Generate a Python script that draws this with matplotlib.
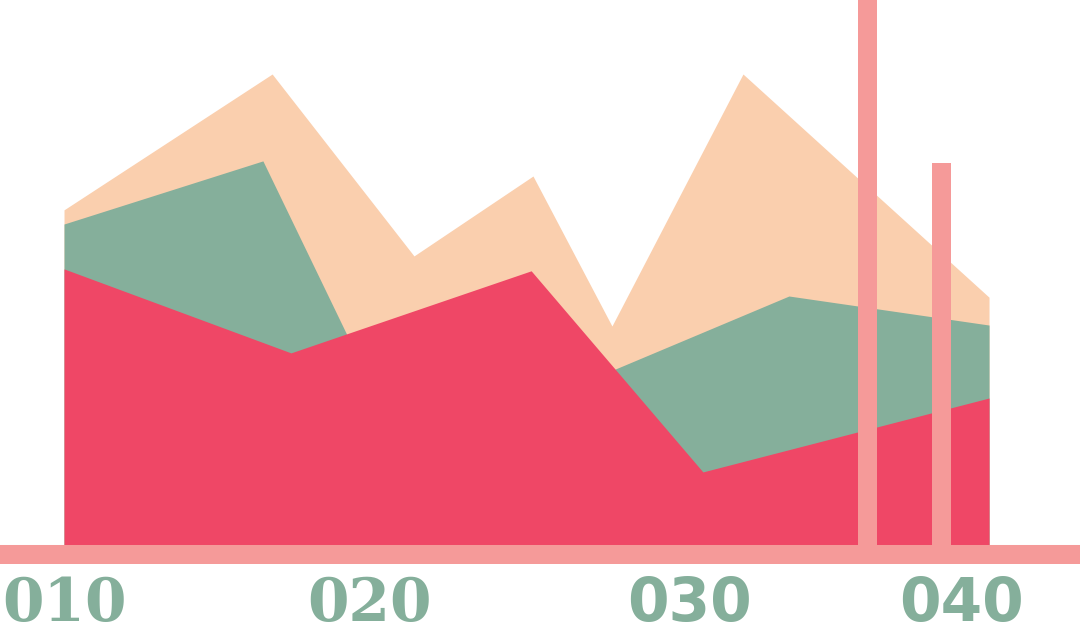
import matplotlib
matplotlib.use("Agg")
import matplotlib.pyplot as plt

# area series (x in data units, y values)
peach_x = [10, 16.75, 21.35, 25.21, 27.77, 32.02, 40]
peach_y = [71.7, 100, 62.1, 78.75, 47.5, 100, 53.5]

green_x = [10, 16.45, 21.09, 33.51, 40]
green_y = [68.75, 81.9, 20.2, 53.75, 47.7]

red_x = [10, 17.36, 25.15, 30.72, 40]
red_y = [59.4, 41.9, 59.0, 17.1, 32.5]

# the two thin bars
bar_x = [36.06, 38.46]
bar_h = [130, 81.5]

tick_pos = [10, 19.9, 30.3, 39.1]
tick_labels = ["010", "020", "030", "040"]
tick_fonts = ["DejaVu Serif", "DejaVu Serif", "DejaVu Sans", "DejaVu Sans"]

RED = "#EF4766"
GREEN = "#85AF9B"
PEACH = "#FACFAE"
PINK = "#F59A99"

fig = plt.figure(figsize=(10.8, 6.29), dpi=100)
ax = fig.add_axes([0, 65 / 629, 1, 564 / 629])

ax.fill_between(peach_x, peach_y, 0, color=PEACH, lw=0, zorder=1)
ax.fill_between(green_x, green_y, 0, color=GREEN, lw=0, zorder=2)
ax.fill_between(red_x, red_y, 0, color=RED, lw=0, zorder=3)

ax.bar(bar_x, bar_h, width=0.62, bottom=0, color=PINK, lw=0, zorder=4)
ax.axhline(0, color=PINK, lw=13.7, zorder=5)

ax.set_xlim(7.924, 42.95)
ax.set_ylim(-2.083, 115.42)

for s in ax.spines.values():
    s.set_visible(False)
ax.set_yticks([])
ax.set_xticks(tick_pos)
ax.set_xticklabels(tick_labels)
ax.tick_params(axis="x", length=0, pad=8)
for lab, fam in zip(ax.get_xticklabels(), tick_fonts):
    lab.set_fontfamily(fam)
    lab.set_fontweight("bold")
    lab.set_fontsize(43)
    lab.set_color(GREEN)

fig.savefig("out.png", dpi=100)
